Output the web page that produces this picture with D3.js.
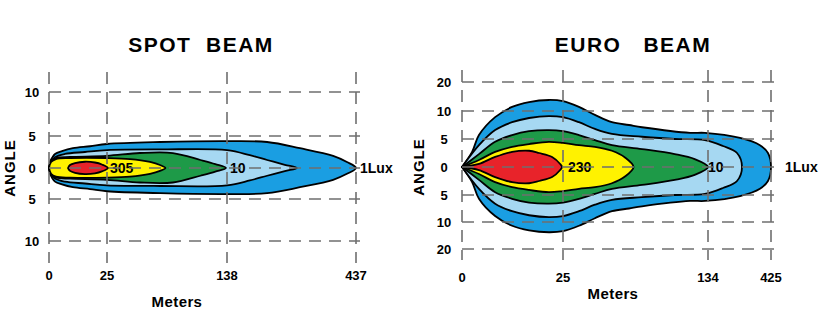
<!DOCTYPE html>
<html>
<head>
<meta charset="utf-8">
<title>Beam patterns</title>
<script src="https://cdn.jsdelivr.net/npm/d3@7/dist/d3.min.js"></script>
<style>
  body { margin: 0; background: #fff; }
  svg text { font-family: "Liberation Sans", Arial, sans-serif; font-weight: bold; fill: #000; }
</style>
</head>
<body>
<svg id="vis" width="829" height="321"></svg>
<script>
// ---- data (meters along beam, half angle in degrees) ----
var spotDist   = [0, 25, 138, 437];
var spotAngles = [10, 5, 0, -5, -10];
var euroDist   = [0, 25, 134, 425];
var euroAngles = [20, 10, 5, 0, -5, -10, -20];

var zoneColors = ["#1a9ee2", "#a6d8f2", "#1e9a48", "#fff200", "#e8232a"];

// upper edge of each zone, mirrored to make the lower edge
var spotOuter  = [[0,0],[0.43,0.94],[1.3,1.56],[2.6,2.2],[5.6,2.65],[10.3,3.1],[17.7,3.4],[25,3.75],[75,4.06],[138,4.2],[231,4.06],[307,3.1],[384,1.9],[416,0.94],[437,0]];
var spotLight  = [[0,0],[0.9,0.9],[2.6,1.7],[6.9,2.2],[15.5,2.5],[25,2.8],[75,2.9],[138,2.8],[191,2.0],[231,1.25],[272,0.5],[300,0]];
var spotGreen  = [[0,0],[0.9,1.1],[3.0,1.56],[9.1,1.72],[25,1.9],[56,2.34],[87,2.34],[113,1.25],[127,0.6],[137,0]];
var spotYellow = [[0,0],[0.9,0.94],[3.0,1.4],[9.1,1.56],[25,1.56],[46.7,1.4],[65.5,0.94],[74.9,0.47],[80,0]];
var spotRed    = [[8.2,0],[9.05,0.47],[11.2,0.78],[15.5,0.98],[19.8,0.86],[22.8,0.55],[25.9,0]];

var euroOuter  = [[0,0],[2.5,2.7],[4.2,5.7],[8.2,8.9],[12.4,11.4],[16.6,13.1],[21.5,13.8],[25,13.4],[37,11.4],[49,9.3],[61.8,8.0],[74.6,7.5],[84.4,7.1],[120.5,6.1],[131.7,6.1],[282,5.2],[374,3.9],[411,2.5],[425,0]];
var euroLight  = [[0,0],[4.2,3.9],[8.2,6.6],[12.4,8.0],[16.6,8.75],[21.5,9.1],[25,8.9],[37,8.0],[49,6.8],[61.8,5.9],[84.4,5.4],[109,5.0],[131.7,4.8],[203,3.75],[268,2.5],[291,0]];
var euroGreen  = [[0,0],[4.2,2.3],[8.2,4.5],[12.4,5.7],[16.6,6.4],[21.5,6.6],[25,6.4],[37,5.7],[49,4.8],[61.8,3.9],[84.4,3.2],[109,2.3],[124,1.4],[134,0]];
var euroYellow = [[0,0],[4.2,1.25],[8.2,2.7],[12.4,3.6],[16.6,4.1],[21.5,4.5],[25,4.3],[37,3.9],[49,3.6],[61.8,2.9],[71.6,1.7],[78,0]];
var euroRed    = [[0,0],[4.2,0.54],[8.2,1.8],[12.4,2.7],[16.6,2.9],[19.1,2.5],[22.3,1.8],[24.3,0.54],[24.75,0]];

var spotLabels = ["305", "10", "1Lux"];
var spotLabelAt = [25, 138, 437];
var euroLabels = ["230", "10", "1Lux"];
var euroLabelAt = [25, 134, 425];

var svg = d3.select("#vis");

function drawChart(c) {
    var x = d3.scaleLinear().domain(c.dist).range(c.xr);
    var y = d3.scaleLinear().domain(c.angles).range(c.yr);
    var g = svg.append("g");

    var line = d3.line().x(function(d){ return x(d[0]); }).y(function(d){ return y(d[1]); })
        .curve(d3.curveCatmullRom.alpha(0.5));
    function outline(p) {
        var lower = p.slice(0, -1).reverse().map(function(d){ return [d[0], -d[1]]; });
        return line(p.concat(lower)) + "Z";
    }

    // beam zones, outer first
    g.selectAll("path.zone").data(c.zones).enter().append("path")
        .attr("class", "zone")
        .attr("d", outline)
        .attr("fill", function(d, i){ return zoneColors[i]; })
        .attr("stroke", "#000").attr("stroke-width", 1.8).attr("stroke-linejoin", "round");

    // lux labels
    g.selectAll("text.lux").data(c.labels).enter().append("text")
        .attr("class", "lux")
        .attr("x", function(d, i){ return x(c.labelAt[i]) + c.labelDx[i]; })
        .attr("y", y(0)).attr("dy", "0.36em")
        .style("font-size", "14px")
        .text(function(d){ return d; });

    // dashed grid on top
    var xEnd = x(c.dist[c.dist.length - 1]) + c.gridPad;
    g.selectAll("line.h").data(c.angles).enter().append("line")
        .attr("x1", x(0)).attr("x2", xEnd)
        .attr("y1", function(d){ return y(d); }).attr("y2", function(d){ return y(d); })
        .attr("stroke", "#6f6f6f").attr("stroke-width", 1.6).attr("stroke-dasharray", "12,8");
    g.selectAll("line.v").data(c.dist).enter().append("line")
        .attr("x1", function(d){ return x(d); }).attr("x2", function(d){ return x(d); })
        .attr("y1", c.vTop).attr("y2", c.vBot)
        .attr("stroke", "#6f6f6f").attr("stroke-width", 1.6).attr("stroke-dasharray", "12,8");

    // tick labels
    g.selectAll("text.yt").data(c.angles).enter().append("text")
        .attr("x", c.yLabelX).attr("y", function(d){ return y(d); }).attr("dy", "0.36em")
        .attr("text-anchor", "middle").style("font-size", "13px")
        .text(function(d){ return Math.abs(d); });
    g.selectAll("text.xt").data(c.dist).enter().append("text")
        .attr("x", function(d){ return x(d); }).attr("y", c.xLabelY)
        .attr("text-anchor", "middle").style("font-size", "13px")
        .text(function(d){ return d; });

    // titles
    g.append("text").attr("x", c.titleX).attr("y", 52).attr("text-anchor", "middle")
        .style("font-size", "21px").style("letter-spacing", "1.5px").style("white-space", "pre")
        .text(c.title);
    g.append("text").attr("x", c.metersX).attr("y", c.metersY).attr("text-anchor", "middle")
        .style("font-size", "15px").style("letter-spacing", "0.4px").text("Meters");
    g.append("text").attr("transform", "translate(" + c.angleX + "," + y(0) + ") rotate(-90)")
        .attr("text-anchor", "middle").style("font-size", "15px").style("letter-spacing", "1px")
        .text("ANGLE");
}

drawChart({
    dist: spotDist, angles: spotAngles,
    xr: [49, 107, 227, 356], yr: [92, 136, 168, 199, 241],
    zones: [spotOuter, spotLight, spotGreen, spotYellow, spotRed],
    labels: spotLabels, labelAt: spotLabelAt, labelDx: [3, 3, 4],
    gridPad: 4, vTop: 72, vBot: 263,
    yLabelX: 32, xLabelY: 280,
    title: "SPOT  BEAM", titleX: 201,
    metersX: 177, metersY: 307, angleX: 15
});

drawChart({
    dist: euroDist, angles: euroAngles,
    xr: [462, 563, 708, 771], yr: [82, 111, 139, 167, 195, 222, 249],
    zones: [euroOuter, euroLight, euroGreen, euroYellow, euroRed],
    labels: euroLabels, labelAt: euroLabelAt, labelDx: [5, 0, 14],
    gridPad: 7, vTop: 70, vBot: 260,
    yLabelX: 444, xLabelY: 282,
    title: "EURO   BEAM", titleX: 633,
    metersX: 613, metersY: 299, angleX: 424
});
</script>
</body>
</html>
